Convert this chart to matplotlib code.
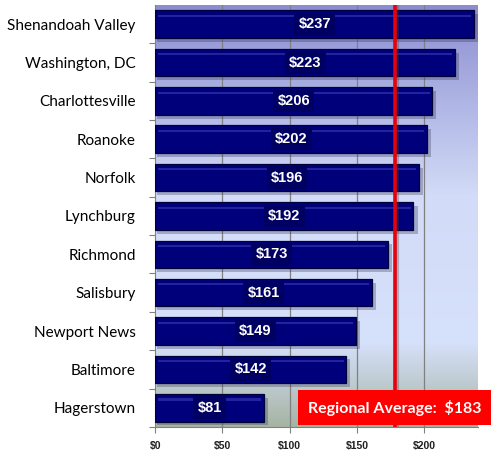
import numpy as np
import matplotlib
matplotlib.use("Agg")
import matplotlib.pyplot as plt
from matplotlib.colors import LinearSegmentedColormap

regions = ["Shenandoah Valley", "Washington, DC", "Charlottesville", "Roanoke",
           "Norfolk", "Lynchburg", "Richmond", "Salisbury", "Newport News",
           "Baltimore", "Hagerstown"]
values = [237, 223, 206, 202, 196, 192, 173, 161, 149, 142, 81]
avg_label = "Regional Average:  $183"
avg_line = 178
x_ticks = [0, 50, 100, 150, 200]
x_tick_labels = ["$0", "$50", "$100", "$150", "$200"]

fig = plt.figure(figsize=(4.99, 4.59), dpi=100)
ax = fig.add_axes([0.311, 0.070, 0.647, 0.919])

n = len(regions)
ypos = np.arange(n)[::-1]
ax.set_xlim(0, 240)
ax.set_ylim(-0.5, n - 0.5)

# background gradient: purple-blue top, light middle, grey-green bottom
bg = LinearSegmentedColormap.from_list(
    "bg", [(0.0, "#8b8dd1"), (0.45, "#d2dbf7"), (0.8, "#d6e1fb"), (1.0, "#a6b4a4")])
grad = np.linspace(0, 1, 256).reshape(-1, 1)
ax.imshow(grad, cmap=bg, aspect="auto", extent=(0, 240, -0.5, n - 0.5),
          origin="upper", zorder=0)

for xt in x_ticks[1:]:
    ax.axvline(xt, color="#808080", lw=0.9, zorder=1)

h = 0.72
for y, v in zip(ypos, values):
    # soft shadow
    ax.barh(y - 0.1, v + 2, height=h, left=1, color="#303050", alpha=0.3, zorder=2)
    ax.barh(y, v, height=h, color="#00007a", edgecolor="#000038", lw=0.9, zorder=3)
    # bevel highlight near the top
    ax.barh(y + h * 0.3, v - 4, left=2, height=h * 0.08, color="#2323a0", zorder=4)
    ax.text(v / 2, y, f"${v}", color="white", fontsize=10.5, fontweight="bold",
            family="Liberation Sans", ha="center", va="center", zorder=6,
            bbox=dict(facecolor="#000062", edgecolor="none", pad=3))

# regional average line
ax.plot([avg_line + 1.5, avg_line + 1.5], [-0.5, n - 0.5], color="#404040",
        alpha=0.3, lw=3, zorder=4)
ax.axvline(avg_line, color="#e8000c", lw=2.6, zorder=5)

ax.text(178, 0, avg_label, color="white", fontsize=11.5, fontweight="bold",
        family="Lato", ha="center", va="center", zorder=8, clip_on=False,
        bbox=dict(facecolor="#ff0000", edgecolor="none",
                  boxstyle="square,pad=0.6"))

ax.set_yticks(np.arange(n) - 0.5, minor=False)
ax.set_yticklabels([])
ax.set_yticks(ypos, minor=True)
ax.set_yticklabels(regions, minor=True, fontsize=11, family="Lato")
ax.tick_params(axis="y", which="minor", length=0, pad=14)
ax.tick_params(axis="y", which="major", length=4, color="#808080", direction="out")

ax.set_xticks(x_ticks)
ax.set_xticklabels(x_tick_labels, fontsize=7.5, fontweight="bold", color="#202020",
                   family="Liberation Sans")
ax.tick_params(axis="x", length=4, color="#808080", pad=6)

for side in ["top", "right"]:
    ax.spines[side].set_visible(False)
ax.spines["left"].set_color("#808080")
ax.spines["bottom"].set_color("#808080")

fig.savefig("out.png", dpi=100)
